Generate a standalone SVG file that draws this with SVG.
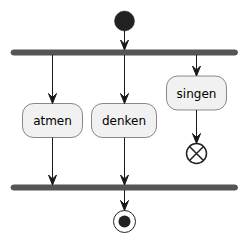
<svg xmlns="http://www.w3.org/2000/svg" width="248" height="242" viewBox="0 0 248 242">
<style>
.box{fill:#F1F1F1;stroke:#181818;stroke-width:0.5}
.bar{fill:#555555;stroke:#555555;stroke-width:1}
.lbl{font-family:"DejaVu Sans",sans-serif;font-size:12px;fill:#000;text-anchor:middle}
.ln{stroke:#181818;stroke-width:1;fill:none}
.ah{fill:#181818;stroke:#181818;stroke-width:1}
</style>
<defs>
<path id="arr" d="M-4,-10 L0,0 L4,-10 L0,-6 Z"/>
</defs>
<g id="start"><circle cx="124.5" cy="21" r="10" fill="#222222" stroke="#222222" stroke-width="0.5"/></g>
<g id="fork"><rect class="bar" x="11" y="50" width="226.5" height="5" rx="2.5"/></g>
<g id="atmen"><rect class="box" x="22.5" y="103.5" width="60" height="34" rx="11"/><text class="lbl" x="52.5" y="125">atmen</text></g>
<g id="denken"><rect class="box" x="91.5" y="103.5" width="65" height="34" rx="11"/><text class="lbl" x="124" y="125">denken</text></g>
<g id="singen"><rect class="box" x="166.5" y="76" width="60" height="34" rx="11"/><text class="lbl" x="196.5" y="97.5">singen</text></g>
<g id="stop"><circle cx="196.5" cy="153.5" r="10" fill="none" stroke="#222222" stroke-width="1.5"/><path d="M189.5,146.5 L203.5,160.5 M203.5,146.5 L189.5,160.5" stroke="#222222" stroke-width="1.5"/></g>
<g id="join"><rect class="bar" x="11" y="185" width="226.5" height="5" rx="2.5"/></g>
<g id="end"><circle cx="124.5" cy="221.5" r="11" fill="none" stroke="#222222" stroke-width="1"/><circle cx="124.5" cy="221.5" r="6" fill="#222222"/></g>
<g id="connectors">
<line class="ln" x1="124.5" y1="31" x2="124.5" y2="50"/><use href="#arr" class="ah" transform="translate(124.5,50)"/>
<line class="ln" x1="52.5" y1="55" x2="52.5" y2="103.5"/><use href="#arr" class="ah" transform="translate(52.5,103.5)"/>
<line class="ln" x1="124.5" y1="55" x2="124.5" y2="103.5"/><use href="#arr" class="ah" transform="translate(124.5,103.5)"/>
<line class="ln" x1="196.5" y1="55" x2="196.5" y2="76"/><use href="#arr" class="ah" transform="translate(196.5,76)"/>
<line class="ln" x1="196.5" y1="110" x2="196.5" y2="143.5"/><use href="#arr" class="ah" transform="translate(196.5,143.5)"/>
<line class="ln" x1="52.5" y1="137.5" x2="52.5" y2="185"/><use href="#arr" class="ah" transform="translate(52.5,185)"/>
<line class="ln" x1="124.5" y1="137.5" x2="124.5" y2="185"/><use href="#arr" class="ah" transform="translate(124.5,185)"/>
<line class="ln" x1="124.5" y1="190" x2="124.5" y2="210.5"/><use href="#arr" class="ah" transform="translate(124.5,210.5)"/>
</g>
</svg>
